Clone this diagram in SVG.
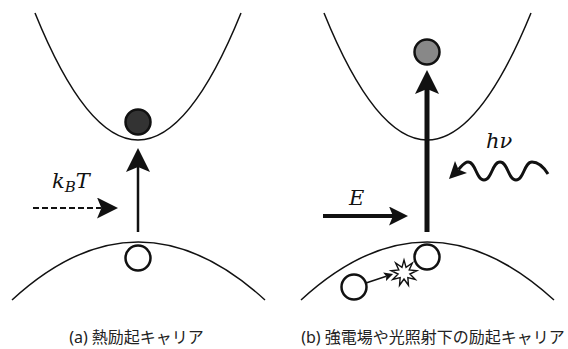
<svg xmlns="http://www.w3.org/2000/svg" width="568" height="349" viewBox="0 0 568 349">
<style>
.band{fill:none;stroke:#111;stroke-width:1.5}
.carrier{stroke:#111;stroke-width:2.5}
.hole{fill:#fff}
.ln{fill:none;stroke:#111;stroke-linecap:butt}
.math{font-family:'DejaVu Serif','Liberation Serif',serif;font-style:italic;fill:#111}
.cap{font-family:"Noto Sans","Noto Sans CJK JP",sans-serif;font-size:16px;fill:#222;text-anchor:middle}
</style>
<defs>
<marker id="hA" viewBox="0 0 24 24" refX="5" refY="12" markerWidth="24" markerHeight="24" markerUnits="userSpaceOnUse" orient="auto"><path d="M0,0 L24,12 L0,24 L5,12 Z" fill="#111"/></marker>
<marker id="hD" viewBox="0 0 24 24" refX="5" refY="12" markerWidth="21" markerHeight="21" markerUnits="userSpaceOnUse" orient="auto"><path d="M0,0 L24,12 L0,24 L5,12 Z" fill="#111"/></marker>
<marker id="hE" viewBox="0 0 24 24" refX="5" refY="12" markerWidth="19" markerHeight="19" markerUnits="userSpaceOnUse" orient="auto"><path d="M0,0 L24,12 L0,24 L5,12 Z" fill="#111"/></marker>
<marker id="hS" viewBox="0 0 24 24" refX="5" refY="12" markerWidth="9" markerHeight="9" markerUnits="userSpaceOnUse" orient="auto"><path d="M0,0 L24,12 L0,24 L5,12 Z" fill="#111"/></marker>
<marker id="hW" viewBox="0 0 24 24" refX="5" refY="12" markerWidth="17" markerHeight="17" markerUnits="userSpaceOnUse" orient="auto"><path d="M0,0 L24,12 L0,24 L5,12 Z" fill="#111"/></marker>
</defs>
<g id="bands">
<path id="cb-a" class="band" d="M35,13 Q138,267 241,13"/>
<path id="vb-a" class="band" d="M12,300 Q138,184 265,300"/>
<path id="cb-b" class="band" d="M324,13 Q427,267 531,13"/>
<path id="vb-b" class="band" d="M301,300 Q427,184 554,300"/>
</g>
<g id="connectors">
<line id="arr-a" class="ln" x1="138" y1="232" x2="138" y2="167" stroke-width="2.5" marker-end="url(#hA)"/>
<line id="arr-kt" class="ln" x1="33" y1="208" x2="101.4" y2="208" stroke-width="2" stroke-dasharray="6,3" marker-end="url(#hD)"/>
<line id="arr-b" class="ln" x1="427" y1="232" x2="427" y2="89" stroke-width="5" marker-end="url(#hA)"/>
<line id="arr-e" class="ln" x1="323" y1="216" x2="393" y2="216" stroke-width="4" marker-end="url(#hE)"/>
<line id="arr-s" class="ln" x1="366" y1="283" x2="386.3" y2="276.2" stroke-width="1.5" marker-end="url(#hS)"/>
<path id="arr-w" class="ln" stroke-width="3" stroke-linecap="round" d="M548,174 C543,166 538,162 532,162 C524,162 524,180 516,180 C508,180 508,162 500,162 C492,162 492,180 484,180 C476,180 476,162 468,162 C464,162 461.5,166.5 458.5,169.5" marker-end="url(#hW)"/>
</g>
<g id="electron-a"><circle class="carrier" cx="138" cy="122" r="12.5" fill="#333"/></g>
<g id="hole-a"><circle class="carrier hole" cx="138" cy="258" r="12.5"/></g>
<g id="electron-b"><circle class="carrier" cx="427" cy="52" r="12.5" fill="#888"/></g>
<g id="hole-b"><circle class="carrier hole" cx="427" cy="257" r="12.5"/></g>
<g id="hole-b2"><circle class="carrier hole" cx="354" cy="287" r="12.5"/></g>
<g id="star"><polygon points="404,260 406.05,267.36 412.36,263.04 409.2,270 416.8,270.74 409.9,274.04 415.26,279.5 407.86,277.6 408.45,285.2 404,279 399.55,285.2 400.14,277.6 392.74,279.5 398.09,274.04 391.2,270.74 398.8,270 395.64,263.04 401.95,267.36" fill="#fff" stroke="#111" stroke-width="1.4" stroke-linejoin="miter"/></g>
<g id="label-kt"><text class="math" x="52" y="188" font-size="21">k<tspan font-size="15" dy="4">B</tspan><tspan dy="-4">T</tspan></text></g>
<g id="label-e"><text class="math" x="349" y="205" font-size="21">E</text></g>
<g id="label-hv"><text class="math" x="486" y="148" font-size="21">hν</text></g>
<g id="caption-a"><text class="cap" x="136.5" y="343">(a) 熱励起キャリア</text></g>
<g id="caption-b"><text class="cap" x="433" y="343">(b) 強電場や光照射下の励起キャリア</text></g>
</svg>
